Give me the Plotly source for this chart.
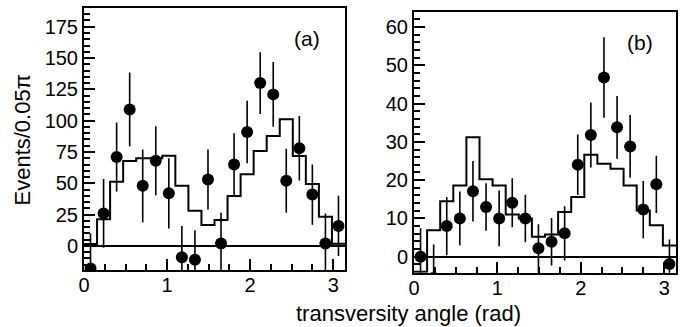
import numpy as np
import plotly.graph_objects as go

# bin centers: 20 bins of 0.05*pi over [0, pi]
bin_width = 0.05 * np.pi
n_bins = 20
edges = [i * bin_width for i in range(n_bins + 1)]
centers = [(i + 0.5) * bin_width for i in range(n_bins)]

# Panel (a) data points and errors
a_vals = [-18, 26, 71, 109, 48, 68, 42, -9, -11, 53, 2, 65, 91, 130, 121, 52, 78, 41, 2, 16]
a_errs = [28, 27.5, 27.5, 29.5, 29, 27.5, 28, 25, 23.5, 24, 24.5, 25, 25, 24.6, 25.8, 25.5, 25.7, 24, 24, 24]
# Panel (a) histogram (expectation)
a_hist = [1.5, 21.3, 51.3, 67.8, 70, 70, 72, 48.1, 28.2, 16.8, 20.8, 39.9, 57.2, 75.8, 87.8, 101.1, 71.8, 49.5, 23.4, 1.8]

# Panel (b) data points and errors
b_vals = [0, -5.5, 8, 10, 17.1, 13, 10, 14.1, 10, 2.2, 3.9, 6.1, 24, 31.8, 46.8, 33.8, 28.8, 12.3, 18.9, -1.9]
b_errs = [7.4, 8.7, 7.6, 7.0, 7.9, 6.2, 7.3, 6.4, 6.2, 6.3, 6.2, 7.1, 7.9, 8.5, 10.5, 8.2, 8.2, 7.5, 7.5, 6.4]
b_hist = [-3.9, 6.9, 14.5, 18.6, 31.2, 20.2, 18.6, 11.0, 10.0, 5.2, 5.8, 11.7, 15.6, 26.6, 24.3, 23.0, 18.6, 12.1, 8.2, 2.9]

x_ticks = [0, 1, 2, 3]
x_tick_text = ["0", "1", "2", "3"]
a_y_ticks = [0, 25, 50, 75, 100, 125, 150, 175]
b_y_ticks = [0, 10, 20, 30, 40, 50, 60]

FONT = "Liberation Sans, Arial, Helvetica, sans-serif"
W, H = 689, 327

fig = go.Figure()

def add_panel(vals, errs, hist, xa, ya):
    fig.add_trace(go.Scatter(
        x=edges, y=list(hist) + [hist[-1]], mode="lines", line_shape="hv",
        line=dict(color="black", width=2), xaxis=xa, yaxis=ya, showlegend=False,
        hoverinfo="skip"))
    fig.add_trace(go.Scatter(
        x=centers, y=vals, mode="markers",
        marker=dict(color="black", size=12, symbol="circle"),
        error_y=dict(type="data", array=errs, color="black", thickness=1.6, width=0),
        xaxis=xa, yaxis=ya, showlegend=False))

add_panel(a_vals, a_errs, a_hist, "x", "y")
add_panel(b_vals, b_errs, b_hist, "x2", "y2")

def xaxis_cfg(domain, anchor):
    return dict(domain=domain, anchor=anchor, range=[0, np.pi],
                tickvals=x_ticks, ticktext=x_tick_text, ticks="inside", ticklen=11,
                tickwidth=1.5, tickcolor="black", ticklabelstandoff=-4,
                minor=dict(dtick=0.25, tick0=0, ticks="inside", ticklen=6, tickwidth=1.5, tickcolor="black"),
                showline=True, linecolor="black", linewidth=2, mirror=True,
                showgrid=False, zeroline=False,
                tickfont=dict(family=FONT, size=20, color="black"), automargin=False)

def yaxis_cfg(domain, anchor, rng, tickvals, minor_dtick):
    return dict(domain=domain, anchor=anchor, range=rng,
                tickvals=tickvals, ticks="inside", ticklen=11,
                tickwidth=1.5, tickcolor="black",
                minor=dict(dtick=minor_dtick, tick0=0, ticks="inside", ticklen=6, tickwidth=1.5, tickcolor="black"),
                showline=True, linecolor="black", linewidth=2, mirror=True,
                showgrid=False, zeroline=True, zerolinecolor="black", zerolinewidth=1.5,
                tickfont=dict(family=FONT, size=20, color="black"), automargin=False)

fig.update_layout(
    width=W, height=H,
    margin=dict(l=0, r=0, t=0, b=0),
    paper_bgcolor="white", plot_bgcolor="white",
    xaxis=xaxis_cfg([84 / W, 345 / W], "y"),
    xaxis2=xaxis_cfg([414 / W, 676 / W], "y2"),
    yaxis=yaxis_cfg([1 - 270 / H, 1 - 7.7 / H], "x", [-19.2, 190.2], a_y_ticks, 5),
    yaxis2=yaxis_cfg([1 - 272.7 / H, 1 - 11.7 / H], "x2", [-4.18, 64.0], b_y_ticks, 2),
    annotations=[
        dict(text="transversity angle (rad)", x=408 / W, y=1 - 313 / H, xref="paper", yref="paper",
             showarrow=False, font=dict(family=FONT, size=22, color="black"),
             xanchor="center", yanchor="middle"),
        dict(text="Events/0.05π", x=22 / W, y=1 - 140.5 / H, xref="paper", yref="paper",
             showarrow=False, textangle=-90, font=dict(family=FONT, size=22, color="black"),
             xanchor="center", yanchor="middle"),
        dict(text="(a)", x=307 / W, y=1 - 38 / H, xref="paper", yref="paper",
             showarrow=False, font=dict(family=FONT, size=21, color="black"),
             xanchor="center", yanchor="middle"),
        dict(text="(b)", x=640 / W, y=1 - 42 / H, xref="paper", yref="paper",
             showarrow=False, font=dict(family=FONT, size=21, color="black"),
             xanchor="center", yanchor="middle"),
    ],
)

fig.write_html("out.html",
               config={"displayModeBar": False},
               post_script="document.body.style.margin='0';document.body.style.overflow='hidden';")
